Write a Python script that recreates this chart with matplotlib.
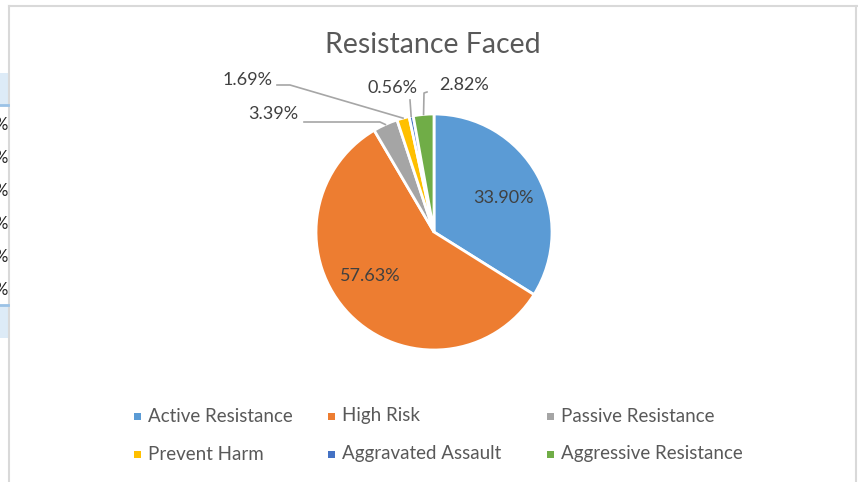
import matplotlib
matplotlib.use("Agg")
import matplotlib.pyplot as plt
import numpy as np
from matplotlib.lines import Line2D
from matplotlib.patches import Rectangle

# data
categories = ["Active Resistance", "High Risk", "Passive Resistance",
              "Prevent Harm", "Aggravated Assault", "Aggressive Resistance"]
shares = [33.90, 57.63, 3.39, 1.69, 0.56, 2.82]
colors = ["#5B9BD5", "#ED7D31", "#A5A5A5", "#FFC000", "#4472C4", "#70AD47"]
title = "Resistance Faced"

W, H = 858, 482
INK = "#404040"
MUTED = "#595959"
LEADER = "#A6A6A6"
FONT = ["Lato", "DejaVu Sans"]

plt.rcParams["font.family"] = FONT

fig = plt.figure(figsize=(W / 100, H / 100), dpi=100)


def fx(x):
    return x / W


def fy(y):
    return 1 - y / H


# pie geometry in pixels
CX, CY, R = 434, 232, 118


def to_data(x, y):
    return (x - CX) / R, (CY - y) / R


# chart frame
for xs, ys in [([9, 857], [6, 6]), ([9, 9], [6, 482]), ([856, 856], [6, 482])]:
    fig.add_artist(Line2D([fx(v) for v in xs], [fy(v) for v in ys],
                          color="#D9D9D9", lw=1.5, transform=fig.transFigure))

# sliver of spreadsheet on the left
fig.add_artist(Rectangle((0, fy(105)), fx(8), fy(73) - fy(105), color="#DDEBF7",
                         transform=fig.transFigure, lw=0))
fig.add_artist(Rectangle((0, fy(338)), fx(8), fy(305) - fy(338), color="#DDEBF7",
                         transform=fig.transFigure, lw=0))
for yy in (105, 305):
    fig.add_artist(Line2D([0, fx(8)], [fy(yy), fy(yy)], color="#9BC2E6", lw=2,
                          transform=fig.transFigure))
strip = fig.add_axes([0, 0, fx(8), 1])
strip.set_xlim(0, 8)
strip.set_ylim(H, 0)
strip.axis("off")
for i, yy in enumerate([125, 158, 191, 224, 257, 290, 322]):
    strip.text(-6, yy, "%", fontsize=12, ha="left", va="center", color="#222222",
               clip_on=True, fontweight="bold" if i == 6 else "normal")

# pie
ax = fig.add_axes([fx(CX - R), fy(CY + R), 2 * R / W, 2 * R / H])
wedges, _ = ax.pie(shares, colors=colors, startangle=90, counterclock=False,
                   radius=1, wedgeprops={"edgecolor": "white", "linewidth": 2})
ax.set_xlim(-1, 1)
ax.set_ylim(-1, 1)
ax.axis("off")

# label placement (pixels) and leader elbows
label_pos = [(503, 198), (370, 276), (273, 114), (248, 80), (392, 88), (464, 85)]
leader_path = [None, None,
               [(304, 122), (380, 122)],
               [(277, 85), (290, 85)],
               [(410, 100)],
               [(427, 92), (424, 93)]]

for w, val, pos, path in zip(wedges, shares, label_pos, leader_path):
    lx, ly = to_data(*pos)
    ax.text(lx, ly, f"{val:.2f}%", ha="center", va="center", fontsize=13,
            color=INK, clip_on=False)
    if path:
        mid = np.deg2rad((w.theta1 + w.theta2) / 2)
        pts = [to_data(*p) for p in path] + [(np.cos(mid), np.sin(mid))]
        ax.plot([p[0] for p in pts], [p[1] for p in pts], color=LEADER, lw=1.2,
                clip_on=False)

fig.text(fx(433), fy(45), title, ha="center", va="center", fontsize=20.5, color=MUTED)

# legend, three columns
col_x = [137, 331, 550]
row_y = [416, 454]
for i, (name, col) in enumerate(zip(categories, colors)):
    mx, my = col_x[i % 3], row_y[i // 3]
    fig.add_artist(Rectangle((fx(mx - 3.5), fy(my + 3.5)), 7 / W, 7 / H, color=col,
                             transform=fig.transFigure, lw=0))
    fig.text(fx(mx + 11), fy(my), name, ha="left", va="center", fontsize=13.5, color=MUTED)

fig.savefig("out.png", dpi=100, facecolor="white")
